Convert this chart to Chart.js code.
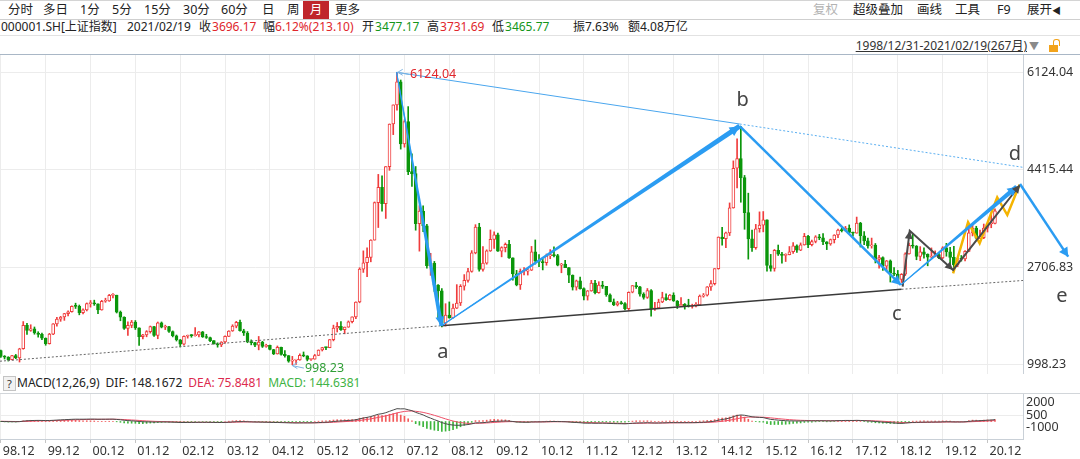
<!DOCTYPE html>
<html>
<head>
<meta charset="utf-8">
<title>上证指数 月线</title>
<style>
  html, body { margin: 0; padding: 0; background: #fff; }
  body {
    width: 1080px; height: 459px; position: relative; overflow: hidden;
    font-family: "Noto Sans", "Noto Sans CJK SC", sans-serif; color: #222;
  }
  .t { position: absolute; white-space: nowrap; line-height: 14px; font-size: 12px; }
  .line { position: absolute; left: 0; width: 1080px; height: 1px; }
  .red { color: #e0262c; }
  .green { color: #14961a; }
  #sel { position: absolute; left: 303px; top: 1px; width: 26px; height: 18px; background: #c0262b;
         color: #fff; text-align: center; line-height: 18px; font-size: 12.5px; }
  #help { position: absolute; left: 3px; top: 376px; width: 11px; height: 13px; border: 1px solid #c4c4c4;
          background: #f2f2f2; font-size: 11px; line-height: 13px; text-align: center; color: #333; }
  #lock { position: absolute; left: 1049px; top: 45px; width: 9px; height: 7px; background: #f2a31b; }
  #shackle { position: absolute; left: 1053px; top: 39px; width: 5px; height: 6px; border: 1.5px solid #f2a31b;
             border-bottom: none; border-radius: 3px 3px 0 0; }
  #macdHead { position: absolute; left: 17px; top: 376px; white-space: nowrap; font-size: 12px; line-height: 14px; }
  #macdHead span { margin-right: 6px; }
  #main { position: absolute; left: 0; top: 55px; width: 1080px; height: 319px; }
  #sub { position: absolute; left: 0; top: 394px; width: 1080px; height: 65px; }
  .tb { font-size: 12.5px; }
</style>
</head>
<body>
  <!-- 工具栏 -->
  <div class="line" style="top:0;background:#d4d4d4"></div>
  <span class="t tb" style="left:8px;top:3px">分时</span>
  <span class="t tb" style="left:43px;top:3px">多日</span>
  <span class="t tb" style="left:80px;top:3px">1分</span>
  <span class="t tb" style="left:112px;top:3px">5分</span>
  <span class="t tb" style="left:144px;top:3px">15分</span>
  <span class="t tb" style="left:183px;top:3px">30分</span>
  <span class="t tb" style="left:221px;top:3px">60分</span>
  <span class="t tb" style="left:262px;top:3px">日</span>
  <span class="t tb" style="left:287px;top:3px">周</span>
  <div id="sel">月</div>
  <span class="t tb" style="left:335px;top:3px">更多</span>
  <span class="t tb" style="left:813px;top:3px;color:#b3b3b3">复权</span>
  <span class="t tb" style="left:853px;top:3px">超级叠加</span>
  <span class="t tb" style="left:917px;top:3px">画线</span>
  <span class="t tb" style="left:955px;top:3px">工具</span>
  <span class="t tb" style="left:997px;top:3px">F9</span>
  <span class="t tb" style="left:1027px;top:3px">展开<span style="font-size:9px">◀</span></span>
  <div class="line" style="top:19px;background:#cfcfcf"></div>

  <!-- 行情信息 -->
  <span class="t" style="left:1px;top:20px">000001.SH[上证指数]</span>
  <span class="t" style="left:127px;top:20px">2021/02/19</span>
  <span class="t" style="left:199px;top:20px">收<span class="red" style="margin-left:1px">3696.17</span></span>
  <span class="t" style="left:263px;top:20px">幅<span class="red">6.12%(213.10)</span></span>
  <span class="t" style="left:362px;top:20px">开<span class="green" style="margin-left:1px">3477.17</span></span>
  <span class="t" style="left:427px;top:20px">高<span class="red" style="margin-left:1px">3731.69</span></span>
  <span class="t" style="left:492px;top:20px">低<span class="green" style="margin-left:1px">3465.77</span></span>
  <span class="t" style="left:573px;top:20px">振7.63%</span>
  <span class="t" style="left:628px;top:20px">额4.08万亿</span>
  <div class="line" style="top:35px;background:#e2e2e2"></div>

  <!-- 区间 -->
  <span class="t" style="right:53px;top:39px;text-decoration:underline;color:#333">1998/12/31-2021/02/19(267月)</span>
  <span class="t" style="left:1029px;top:39px;color:#8a8a8a;font-size:10px">▼</span>
  <div id="shackle"></div><div id="lock"></div>
  <div class="line" style="top:54px;background:#a9b7c6"></div>

  <div id="main"><canvas id="kline"></canvas></div>

  <!-- MACD 标题 -->
  <div id="help">?</div>
  <div id="macdHead"><span>MACD(12,26,9)</span><span>DIF: 148.1672</span><span style="color:#dc2a4e">DEA: 75.8481</span><span style="color:#3fb345">MACD: 144.6381</span></div>
  <div class="line" style="top:393px;background:#d2d6da"></div>

  <div id="sub"><canvas id="macd"></canvas></div>

<script src="https://cdn.jsdelivr.net/npm/chart.js@4"></script>
<script>
const FONT = '"Noto Sans", "Noto Sans CJK SC", sans-serif';
const UP = '#f03c3c', DOWN = '#0b960b', WAVE = '#2b9cf2';

// 横轴年份刻度（每12个月一个）
const yearTicks = ['98.12','99.12','00.12','01.12','02.12','03.12','04.12','05.12','06.12','07.12','08.12',
  '09.12','10.12','11.12','12.12','13.12','14.12','15.12','16.12','17.12','18.12','19.12','20.12'];
const priceTicks = [998.23, 2706.83, 4415.44, 6124.04];
const macdTicks = [2000, 500, -1000];

// 月K线 1998.12 - 2021.02
const opens = [1247,
  1147,1134,1090,1158,1120,1279,1689,1601,1627,1556,1532,1464,
  1367,1535,1714,1800,1836,1894,1928,2023,2022,1910,1961,2070,
  2073,2065,1959,2112,2119,2214,2218,1920,1834,1636,1689,1747,
  1646,1491,1524,1580,1667,1513,1732,1656,1669,1581,1508,1437,
  1358,1499,1512,1510,1521,1576,1487,1476,1421,1367,1348,1397,
  1497,1590,1675,1742,1595,1555,1399,1386,1342,1396,1320,1340,
  1266,1191,1306,1181,1159,1060,1080,1083,1162,1155,1092,1099,
  1161,1258,1299,1298,1440,1641,1672,1612,1658,1752,1837,2099,
  2675,2786,2881,3183,3841,4109,3820,4471,5218,5552,5955,4871,
  5262,4383,4348,3473,3693,3433,2736,2775,2397,2293,1729,1871,
  1821,1991,2082,2374,2477,2633,2959,3412,2668,2779,2996,3195,
  3277,2989,3051,3110,2871,2592,2398,2638,2639,2656,2979,2820,
  2808,2790,2905,2928,2911,2743,2762,2701,2568,2359,2469,2334,
  2199,2293,2429,2263,2397,2373,2226,2103,2048,2086,2069,1980,
  2269,2385,2366,2237,2178,2301,1979,1994,2098,2175,2141,2220,
  2116,2033,2056,2033,2026,2039,2048,2202,2217,2364,2420,2683,
  3235,3210,3310,3748,4442,4612,4277,3664,3206,3053,3383,3445,
  3539,2738,2688,3004,2938,2917,2930,2979,3085,3005,3100,3250,
  3104,3159,3242,3223,3155,3117,3192,3273,3361,3349,3393,3317,
  3307,3481,3259,3169,3082,3095,2847,2876,2725,2821,2603,2588,
  2494,2585,2941,3091,3078,2899,2979,2933,2886,2905,2929,2872,
  3050,2977,2880,2750,2860,2852,2985,3310,3396,3218,3225,3392,
  3473,3477];
const highs = [1255,
  1160,1140,1165,1180,1288,1756,1725,1700,1661,1578,1555,1470,
  1550,1720,1830,1847,1900,1945,2030,2078,2046,1980,2082,2125,
  2131,2068,2128,2165,2232,2245,2218,1941,1840,1750,1776,1774,
  1648,1530,1597,1678,1671,1748,1749,1693,1674,1592,1520,1442,
  1505,1520,1528,1649,1581,1583,1533,1486,1424,1384,1404,1506,
  1596,1700,1760,1783,1621,1581,1435,1394,1495,1410,1359,1342,
  1269,1328,1307,1248,1161,1146,1092,1190,1223,1158,1106,1180,
  1260,1305,1305,1441,1693,1739,1757,1660,1767,1841,2100,2699,
  2995,3050,3190,3852,4335,4311,4472,5219,5553,6124,5989,5292,
  5523,4695,4473,3786,3786,3460,2952,2810,2403,2334,2069,2100,
  2064,2403,2403,2579,2688,2999,3454,3478,3068,3013,3361,3327,
  3307,3067,3133,3181,2873,2653,2678,2703,2689,3073,3186,2928,
  2850,2940,3017,3067,2934,2776,2827,2701,2574,2483,2536,2347,
  2300,2479,2478,2454,2461,2373,2243,2152,2111,2113,2090,2276,
  2387,2444,2373,2261,2335,2315,2092,2148,2270,2243,2231,2260,
  2125,2177,2072,2147,2061,2087,2222,2248,2369,2475,2683,3239,
  3406,3325,3835,4572,4958,5178,4317,4006,3357,3459,3678,3684,
  3539,2933,3019,3097,2970,2944,3071,3140,3102,3134,3301,3265,
  3183,3261,3284,3296,3156,3202,3278,3375,3392,3424,3450,3324,
  3587,3495,3334,3220,3219,3124,2916,2891,2827,2836,2704,2652,
  2597,2961,3130,3288,3088,3069,3048,2943,3047,2995,2970,3068,
  3127,3058,3074,2861,2914,3000,3458,3455,3426,3359,3465,3474,
  3637,3732];
const lows = [1129,
  1100,1064,1084,1105,1047,1271,1529,1585,1534,1483,1440,1341,
  1361,1526,1676,1760,1777,1855,1921,1985,1874,1890,1942,2009,
  2040,1893,1955,2093,2110,2170,1906,1770,1618,1514,1648,1617,
  1339,1451,1489,1554,1495,1455,1645,1615,1566,1487,1415,1311,
  1341,1465,1481,1499,1486,1478,1460,1405,1358,1307,1316,1378,
  1493,1584,1646,1586,1512,1385,1348,1318,1260,1302,1305,1259,
  1177,1186,1166,1134,1043,998,1004,1077,1139,1067,1074,1097,
  1160,1240,1265,1297,1417,1573,1600,1541,1655,1730,1808,2085,
  2617,2541,2803,3183,3404,3690,3563,4406,5032,5462,4778,4812,
  4330,4123,3357,2990,3333,2693,2566,2284,1802,1664,1678,1814,
  1814,1984,2037,2307,2447,2621,2943,2639,2639,2761,2985,3039,
  2986,2890,2976,2861,2481,2382,2319,2572,2571,2650,2763,2717,
  2661,2743,2857,2888,2732,2611,2700,2437,2308,2307,2324,2134,
  2132,2287,2242,2252,2336,2198,2099,2035,2029,2058,1959,1949,
  2259,2337,2202,2148,2162,1849,1951,1994,2087,2128,2130,2109,
  1985,2024,1974,2010,1991,2011,2041,2183,2203,2303,2397,2673,
  3095,3050,3263,3743,4099,3847,3373,2850,2983,3023,3322,3328,
  2638,2639,2639,2914,2781,2808,2924,2951,2969,2998,3095,3051,
  3081,3135,3190,3104,3017,3093,3133,3224,3326,3339,3313,3254,
  3304,3062,3102,3041,3042,2783,2691,2653,2644,2449,2562,2463,
  2440,2562,2935,3043,2839,2823,2868,2733,2877,2891,2857,2857,
  2901,2685,2647,2719,2815,2817,2980,3256,3202,3209,3209,3325,
  3400,3466];
const closes = [1147,
  1134,1090,1158,1120,1279,1689,1601,1627,1556,1532,1464,1367,
  1535,1714,1800,1836,1894,1928,2023,2022,1910,1961,2070,2073,
  2065,1959,2112,2119,2214,2218,1920,1834,1636,1689,1747,1646,
  1491,1524,1580,1667,1513,1732,1656,1669,1581,1508,1437,1358,
  1499,1512,1510,1521,1576,1487,1476,1421,1367,1348,1397,1497,
  1590,1675,1742,1595,1555,1399,1386,1342,1396,1320,1340,1266,
  1191,1306,1181,1159,1060,1080,1083,1162,1155,1092,1099,1161,
  1258,1299,1298,1440,1641,1672,1612,1658,1752,1837,2099,2675,
  2786,2881,3183,3841,4109,3820,4471,5218,5552,5955,4871,5262,
  4383,4348,3473,3693,3433,2736,2775,2397,2293,1729,1871,1821,
  1991,2082,2374,2477,2633,2959,3412,2668,2779,2996,3195,3277,
  2989,3051,3110,2871,2592,2398,2638,2639,2656,2979,2820,2808,
  2790,2905,2928,2911,2743,2762,2701,2568,2359,2469,2334,2199,
  2293,2429,2263,2397,2373,2226,2103,2048,2086,2069,1980,2269,
  2385,2366,2237,2178,2301,1979,1994,2098,2175,2141,2220,2116,
  2033,2056,2033,2026,2039,2048,2202,2217,2364,2420,2683,3235,
  3210,3310,3748,4442,4612,4277,3664,3206,3053,3383,3445,3539,
  2738,2688,3004,2938,2917,2930,2979,3085,3005,3100,3250,3104,
  3159,3242,3223,3155,3117,3192,3273,3361,3349,3393,3317,3307,
  3481,3259,3169,3082,3095,2847,2876,2725,2821,2603,2588,2494,
  2585,2941,3091,3078,2899,2979,2933,2886,2905,2929,2872,3050,
  2977,2880,2750,2860,2852,2985,3310,3396,3218,3225,3392,3473,
  3483,3696];

// MACD(12,26,9)
const dif = [6,-3,-13,-15,-20,-11,29,54,74,83,88,85,74,
  78,94,113,129,145,159,175,186,183,183,189,193,
  192,181,183,183,188,190,166,139,100,72,54,32,
  1,-20,-32,-34,-47,-40,-40,-38,-43,-53,-65,-81,
  -80,-78,-76,-72,-64,-65,-65,-69,-75,-81,-80,-71,
  -56,-36,-15,-11,-10,-21,-31,-42,-46,-55,-59,-68,
  -80,-79,-88,-95,-108,-115,-119,-114,-110,-111,-109,-102,
  -87,-71,-58,-36,-2,27,45,62,82,103,140,213,
  277,331,394,491,583,625,703,815,921,1025,1009,1016,
  940,866,729,631,526,383,269,147,41,-88,-176,-247,
  -286,-307,-296,-276,-244,-191,-111,-106,-93,-64,-24,14,
  20,30,42,32,1,-38,-50,-58,-62,-39,-34,-30,
  -28,-16,-6,1,-7,-11,-20,-37,-66,-80,-100,-126,
  -137,-133,-142,-137,-133,-140,-154,-167,-173,-177,-185,-166,
  -140,-120,-113,-111,-98,-112,-121,-119,-109,-103,-91,-89,
  -92,-93,-93,-94,-92,-88,-72,-58,-34,-11,29,103,
  159,208,279,387,481,523,500,440,376,348,327,314,
  237,169,140,110,83,63,50,48,39,39,51,48,
  50,57,60,57,51,51,57,69,76,84,83,81,
  92,82,66,46,31,-1,-24,-54,-69,-97,-119,-143,
  -153,-130,-99,-74,-69,-57,-51,-49,-46,-41,-41,-26,
  -20,-23,-36,-36,-37,-26,8,42,54,63,83,104,
  120,148];
const dea = [17,13,8,3,-1,-3,3,13,25,37,47,55,59,
  62,69,78,88,99,111,124,136,146,153,160,167,
  172,174,176,177,179,181,178,170,156,139,122,104,
  84,63,44,28,13,3,-6,-12,-19,-25,-33,-43,
  -50,-56,-60,-62,-63,-63,-63,-64,-67,-69,-72,-72,
  -68,-62,-53,-44,-37,-34,-34,-35,-38,-41,-45,-49,
  -55,-60,-66,-72,-79,-86,-93,-97,-100,-102,-103,-103,
  -100,-94,-87,-77,-62,-44,-26,-9,9,28,51,83,
  122,164,210,266,329,388,451,524,603,688,752,805,
  832,839,817,780,729,660,582,495,404,306,209,118,
  37,-32,-84,-123,-147,-156,-147,-139,-130,-116,-98,-76,
  -57,-39,-23,-12,-10,-15,-22,-29,-36,-37,-36,-35,
  -33,-30,-25,-20,-17,-16,-17,-21,-30,-40,-52,-67,
  -81,-91,-101,-109,-113,-119,-126,-134,-142,-149,-156,-158,
  -154,-148,-141,-135,-127,-124,-124,-123,-120,-117,-111,-107,
  -104,-102,-100,-99,-97,-96,-91,-84,-74,-62,-44,-14,
  20,58,102,159,224,283,327,349,355,353,348,341,
  320,290,260,230,201,173,148,128,110,96,87,79,
  73,70,68,66,63,60,60,62,64,68,71,73,
  77,78,76,70,62,49,35,17,0,-20,-40,-60,
  -79,-89,-91,-88,-84,-78,-73,-68,-64,-59,-56,-50,
  -44,-40,-39,-38,-38,-36,-27,-13,0,13,27,42,
  58,76];
const macd = [-23,-32,-41,-37,-37,-15,52,80,97,92,81,60,31,
  31,51,71,83,92,95,102,99,75,60,58,52,
  41,15,15,11,18,18,-24,-64,-113,-135,-136,-145,
  -165,-166,-152,-125,-121,-85,-68,-52,-50,-55,-64,-76,
  -60,-45,-32,-20,-3,-3,-3,-8,-17,-23,-18,0,
  25,51,75,68,55,26,4,-14,-17,-27,-29,-37,
  -49,-38,-44,-47,-58,-58,-53,-35,-21,-18,-12,3,
  25,45,57,81,119,142,142,141,145,150,179,260,
  310,334,368,450,507,473,503,583,635,675,514,422,
  216,55,-175,-297,-405,-554,-625,-696,-726,-786,-770,-730,
  -647,-550,-423,-306,-195,-71,72,65,74,106,148,178,
  153,138,129,87,21,-46,-55,-57,-53,-5,5,10,
  12,27,39,42,21,9,-6,-32,-72,-80,-96,-118,
  -112,-84,-81,-57,-39,-43,-56,-67,-62,-56,-58,-16,
  29,56,56,48,59,24,5,8,22,27,41,36,
  23,18,13,10,11,14,37,53,80,102,144,235,
  276,300,354,456,515,478,347,181,43,-11,-42,-54,
  -167,-242,-241,-240,-235,-221,-197,-161,-143,-114,-72,-63,
  -48,-27,-16,-18,-24,-19,-5,14,22,31,24,16,
  30,8,-19,-47,-62,-101,-117,-141,-137,-155,-160,-165,
  -148,-82,-16,27,31,43,44,38,36,37,29,47,
  47,33,6,4,3,19,70,110,107,100,112,123,
  124,145];

// 画线：[月序号, 点位]
const trendLow = [[-0.22, 1061], [117.9, 1683], [241.0, 2321], [273.5, 2476]];
const trendHigh = [[105.9, 6124], [197.7, 5218], [273.5, 4459]];
const waveTop = [105.9, 6124], waveA = [117.9, 1683], waveB = [197.7, 5180],
      waveC = [240.8, 2397], waveD = [271.8, 4119], waveDs = [272.7, 4167], waveE = [285.6, 2893];
const blackZig = [[241.3, 2367], [243.2, 3348], [254.8, 2660], [272.7, 4149]];
const yellowZig = [[254.8, 2602], [258.8, 3497], [261.9, 3127], [266.6, 3930], [269.3, 3623], [272.6, 4158]];
const waveNames = ['a', 'b', 'c', 'd', 'e'];
const waveNamePos = [[118.3, 1222], [198.5, 5639], [239.7, 1888], [271.3, 4692], [283.9, 2204]];

Chart.defaults.font.family = FONT;

const isUp = closes.map((c, i) => c >= opens[i]);

function seg(points, color, width, extra) {
  return Object.assign({
    type: 'line', order: 0,
    data: points.map(p => ({ x: p[0], y: p[1] })),
    borderColor: color, backgroundColor: color, borderWidth: width,
    pointRadius: 0, tension: 0, fill: false, clip: false
  }, extra || {});
}

function arrowHead(ctx, a, b, len, half) {
  const dx = b.x - a.x, dy = b.y - a.y, L = Math.hypot(dx, dy);
  const ux = dx / L, uy = dy / L;
  ctx.beginPath();
  ctx.moveTo(b.x, b.y);
  ctx.lineTo(b.x - ux * len - uy * half, b.y - uy * len + ux * half);
  ctx.lineTo(b.x - ux * len + uy * half, b.y - uy * len - ux * half);
  ctx.closePath();
  ctx.fill();
}

function taper(ctx, a, b, w0, w1) {
  const dx = b.x - a.x, dy = b.y - a.y, L = Math.hypot(dx, dy);
  const nx = -dy / L, ny = dx / L;
  ctx.beginPath();
  ctx.moveTo(a.x + nx * w0 / 2, a.y + ny * w0 / 2);
  ctx.lineTo(b.x + nx * w1 / 2, b.y + ny * w1 / 2);
  ctx.lineTo(b.x - nx * w1 / 2, b.y - ny * w1 / 2);
  ctx.lineTo(a.x - nx * w0 / 2, a.y - ny * w0 / 2);
  ctx.closePath();
  ctx.fill();
}

// 箭头、渐粗线条和文字标注
const drawings = {
  id: 'drawings',
  afterDatasetsDraw(chart) {
    const ctx = chart.ctx, xs = chart.scales.x, ys = chart.scales.y;
    chart.data.datasets.forEach((ds, k) => {
      if (!ds.deco) return;
      const pts = chart.getDatasetMeta(k).data;
      ctx.save();
      ctx.fillStyle = ds.borderColor;
      if (ds.deco.taper) taper(ctx, pts[0], pts[pts.length - 1], ds.deco.taper[0], ds.deco.taper[1]);
      (ds.deco.heads || []).forEach(j => arrowHead(ctx, pts[j - 1], pts[j], ds.deco.len, ds.deco.half));
      ctx.restore();
    });

    ctx.save();
    ctx.font = '20px ' + FONT;
    ctx.fillStyle = '#444';
    ctx.textAlign = 'center';
    ctx.textBaseline = 'middle';
    waveNames.forEach((n, k) => {
      ctx.fillText(n, xs.getPixelForValue(waveNamePos[k][0]), ys.getPixelForValue(waveNamePos[k][1]));
    });

    // 最高/最低价标记
    const marks = [
      { from: [109.2, 6085], to: [106.2, 6124], text: '6124.04', color: '#e0262c' },
      { from: [81.1, 940], to: [78.0, 985], text: '998.23', color: '#2f9e36' }
    ];
    ctx.font = '12.5px ' + FONT;
    ctx.textAlign = 'left';
    marks.forEach(m => {
      const a = { x: xs.getPixelForValue(m.from[0]), y: ys.getPixelForValue(m.from[1]) };
      const b = { x: xs.getPixelForValue(m.to[0]), y: ys.getPixelForValue(m.to[1]) };
      ctx.strokeStyle = '#7fb3e0';
      ctx.lineWidth = 1;
      ctx.beginPath(); ctx.moveTo(a.x, a.y); ctx.lineTo(b.x, b.y); ctx.stroke();
      ctx.beginPath();
      ctx.moveTo(b.x + 5, b.y - 3); ctx.lineTo(b.x, b.y); ctx.lineTo(b.x + 5, b.y + 3);
      ctx.stroke();
      ctx.fillStyle = m.color;
      ctx.fillText(m.text, a.x + 1, a.y);
    });
    ctx.restore();
  }
};

const xCommon = {
  type: 'linear', min: -0.22, max: 273.5, offset: false,
  afterBuildTicks: s => { s.ticks = yearTicks.map((t, k) => ({ value: k * 12 })); }
};

new Chart(document.getElementById('kline'), {
  type: 'bar',
  data: {
    datasets: [
      { type: 'bar', order: 3, grouped: false, barThickness: 1,
        data: lows.map((l, i) => ({ x: i, y: [l, highs[i]] })),
        backgroundColor: isUp.map(u => u ? UP : DOWN) },
      { type: 'bar', order: 2, grouped: false, barThickness: 3, minBarLength: 1,
        borderWidth: 1, borderSkipped: false,
        data: opens.map((o, i) => ({ x: i, y: [o, closes[i]] })),
        backgroundColor: isUp.map(u => u ? '#ffffff' : DOWN),
        borderColor: isUp.map(u => u ? UP : DOWN) },
      seg(trendLow.slice(0, 2), '#666', 1, { order: 1, borderDash: [2, 2] }),
      seg(trendLow.slice(1, 3), '#3a3a3a', 1.5, { order: 1 }),
      seg(trendLow.slice(2, 4), '#666', 1, { order: 1, borderDash: [2, 2] }),
      seg(trendHigh.slice(0, 2), '#4aa6ee', 1, { order: 1 }),
      seg(trendHigh.slice(1, 3), '#5aaef0', 1, { order: 1, borderDash: [2, 2] }),
      seg([waveTop, waveA], WAVE, 1, { deco: { taper: [1, 4], heads: [1], len: 9, half: 4.5 } }),
      seg([waveA, waveB], WAVE, 1, { deco: { taper: [1, 5], heads: [1], len: 10, half: 5 } }),
      seg([waveB, waveC], WAVE, 2.5, { deco: { heads: [1], len: 9, half: 5 } }),
      seg([waveC, waveD], WAVE, 1, { deco: { taper: [1, 4.5], heads: [1], len: 9, half: 5 } }),
      seg([waveDs, waveE], WAVE, 2.5, { deco: { heads: [1], len: 9, half: 5 } }),
      seg(blackZig, '#4a4a4a', 2, { deco: { heads: [1, 2, 3], len: 8, half: 4 } }),
      seg(yellowZig, '#f5b400', 2.5, {})
    ]
  },
  options: {
    responsive: true, maintainAspectRatio: false, animation: false, events: [],
    layout: { padding: 0 },
    plugins: { legend: { display: false }, tooltip: { enabled: false } },
    scales: {
      x: Object.assign({}, xCommon, {
        afterFit: s => { s.height = 0; s.paddingLeft = 0; s.paddingRight = 0; },
        ticks: { display: false },
        grid: { color: '#ececec', drawTicks: false, offset: false },
        border: { display: false }
      }),
      y: {
        position: 'right', min: 837, max: 6427.2,
        afterBuildTicks: s => { s.ticks = priceTicks.map(v => ({ value: v })); },
        afterFit: s => { s.width = 57; s.paddingTop = 0; s.paddingBottom = 0; },
        ticks: { callback: v => v.toFixed(2), color: '#333', padding: 4, font: { size: 12.5 } },
        grid: { color: '#ececec', drawTicks: false },
        border: { display: true, color: '#c9d0d7' }
      }
    }
  },
  plugins: [drawings]
});

// MACD 纵轴文字：上对齐、居中、下对齐
const macdAxisText = {
  id: 'macdAxisText',
  afterDraw(chart) {
    const ctx = chart.ctx, ys = chart.scales.y, x = chart.chartArea.right + 3;
    ctx.save();
    ctx.font = '12.5px ' + FONT;
    ctx.fillStyle = '#333';
    ctx.textAlign = 'left';
    macdTicks.forEach((v, k) => {
      ctx.textBaseline = k === 0 ? 'top' : (k === macdTicks.length - 1 ? 'bottom' : 'middle');
      ctx.fillText(String(v), x, ys.getPixelForValue(v));
    });
    ctx.restore();
  }
};

new Chart(document.getElementById('macd'), {
  type: 'bar',
  data: {
    datasets: [
      { type: 'line', order: 0, data: dif.map((v, i) => ({ x: i, y: v })),
        borderColor: '#4a4a4a', borderWidth: 1, pointRadius: 0, tension: 0 },
      { type: 'line', order: 1, data: dea.map((v, i) => ({ x: i, y: v })),
        borderColor: '#ee5068', borderWidth: 1, pointRadius: 0, tension: 0 },
      { type: 'bar', order: 2, barThickness: 1, data: macd.map((v, i) => ({ x: i, y: v })),
        backgroundColor: macd.map(v => v >= 0 ? '#f25a5a' : '#3db53d') }
    ]
  },
  options: {
    responsive: true, maintainAspectRatio: false, animation: false, events: [],
    layout: { padding: 0 },
    plugins: { legend: { display: false }, tooltip: { enabled: false } },
    scales: {
      x: Object.assign({}, xCommon, {
        afterFit: s => { s.height = 20; s.paddingLeft = 0; s.paddingRight = 0; },
        ticks: { callback: (v, i) => yearTicks[i], autoSkip: false, maxRotation: 0,
                 align: 'start', labelOffset: 2, padding: 1, color: '#333', font: { size: 12.5 } },
        grid: { color: '#ececec', tickLength: 4, tickColor: '#c4c4c4', offset: false },
        border: { display: true, color: '#c9d0d7' }
      }),
      y: {
        position: 'right', min: -1400, max: 2200,
        afterBuildTicks: s => { s.ticks = macdTicks.map(v => ({ value: v })); },
        afterFit: s => { s.width = 57; s.paddingTop = 0; s.paddingBottom = 0; },
        ticks: { display: false },
        grid: { color: c => (c.tick && c.tick.value === 500) ? '#ececec' : 'rgba(0,0,0,0)', drawTicks: false },
        border: { display: true, color: '#c9d0d7' }
      }
    }
  },
  plugins: [macdAxisText]
});
</script>
</body>
</html>
